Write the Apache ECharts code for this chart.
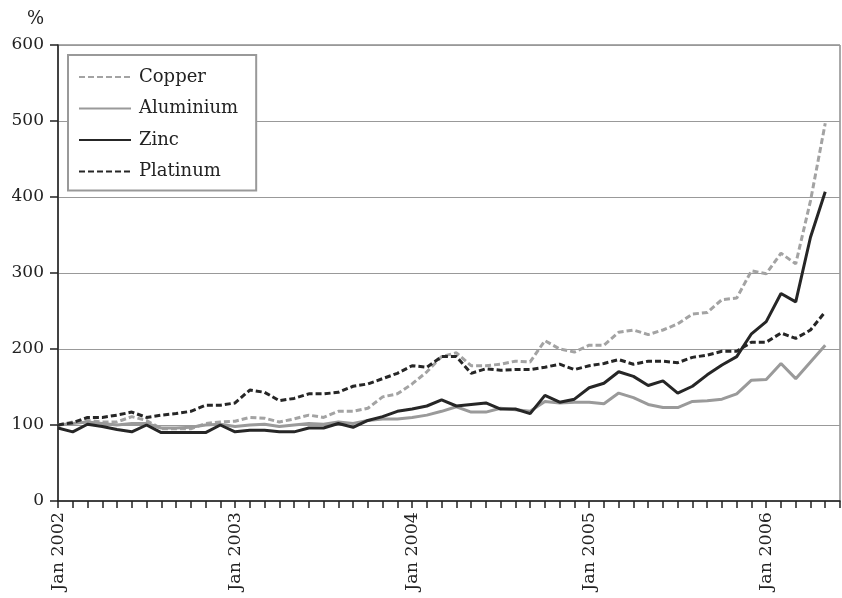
<!DOCTYPE html>
<html>
<head>
<meta charset="utf-8">
<script src="https://cdn.jsdelivr.net/npm/echarts@6/dist/echarts.min.js"></script>
<style>
html,body{margin:0;padding:0;background:#fff;}
#chart{width:842px;height:598px;}
</style>
</head>
<body>
<div id="chart"></div>
<script>
var months = [
 'Jan 2002','Feb 2002','Mar 2002','Apr 2002','May 2002','Jun 2002','Jul 2002','Aug 2002','Sep 2002','Oct 2002','Nov 2002','Dec 2002',
 'Jan 2003','Feb 2003','Mar 2003','Apr 2003','May 2003','Jun 2003','Jul 2003','Aug 2003','Sep 2003','Oct 2003','Nov 2003','Dec 2003',
 'Jan 2004','Feb 2004','Mar 2004','Apr 2004','May 2004','Jun 2004','Jul 2004','Aug 2004','Sep 2004','Oct 2004','Nov 2004','Dec 2004',
 'Jan 2005','Feb 2005','Mar 2005','Apr 2005','May 2005','Jun 2005','Jul 2005','Aug 2005','Sep 2005','Oct 2005','Nov 2005','Dec 2005',
 'Jan 2006','Feb 2006','Mar 2006','Apr 2006','May 2006','Jun 2006'
];
var seriesNames = ['Copper','Aluminium','Zinc','Platinum'];
var copper = [100,104,106,104,104,111,106,95,95,95,102,104,
 105,110,109,104,108,113,110,118,118,122,137,141,
 154,170,190,195,178,178,180,184,183,211,200,196,
 205,205,222,225,219,225,233,246,248,265,267,303,
 299,326,312,395,497];
var aluminium = [100,102,104,102,100,102,102,96,96,97,100,101,
 98,100,101,98,100,102,101,104,102,106,108,108,
 110,113,118,124,117,117,122,120,118,131,129,130,
 130,128,142,136,127,123,123,131,132,134,141,159,
 160,181,161,183,205];
var zinc = [96,91,101,98,94,91,100,90,90,90,90,100,
 91,93,93,91,91,96,96,102,97,106,111,118,
 121,125,133,125,127,129,121,121,115,139,130,134,
 149,155,170,164,152,158,142,151,166,179,190,220,
 236,273,262,347,407];
var platinum = [100,103,110,110,113,117,110,113,115,118,126,126,
 129,146,143,132,135,141,141,143,151,154,161,168,
 178,176,190,190,168,174,172,173,173,176,180,173,
 178,181,186,180,184,184,182,189,192,197,197,209,
 209,221,214,225,249];
var yTicks = [0,100,200,300,400,500,600];

var FONT = 'DejaVu Serif';
var chart = echarts.init(document.getElementById('chart'), null, {renderer:'canvas'});
function mk(name, data, color, dashed) {
  return {
    name: name, type: 'line', data: data, symbol: 'none', showSymbol: false,
    lineStyle: {color: color, width: 3, type: dashed ? [6,3] : 'solid'},
    itemStyle: {color: color},
    emphasis: {disabled: true}, animation: false
  };
}
chart.setOption({
  animation: false,
  title: {text: '%', left: 22, top: 5, textStyle: {fontFamily: FONT, fontSize: 18, fontWeight: 'normal', color: '#222'}},
  grid: {left: 58, right: 2, top: 45, bottom: 97, show: true, borderColor: '#555', borderWidth: 1, backgroundColor: 'transparent'},
  legend: {
    orient: 'vertical', left: 68, top: 55,
    padding: [12, 18, 9, 10],
    borderColor: '#999', borderWidth: 2, backgroundColor: '#fff',
    itemWidth: 52, itemHeight: 14, itemGap: 11.5,
    itemStyle: {opacity: 0},
    textStyle: {fontFamily: FONT, fontSize: 18, color: '#222', lineHeight: 20, padding: [0, 0, 0, 3]},
    data: seriesNames
  },
  xAxis: {
    type: 'category', data: months, boundaryGap: false,
    axisLine: {lineStyle: {color: '#222', width: 1.5}},
    axisTick: {show: true, interval: 0, length: 7, lineStyle: {color: '#222', width: 1.5}},
    axisLabel: {
      interval: function (i) { return i % 12 === 0; },
      rotate: 90, margin: 11, fontFamily: FONT, fontSize: 17.5, color: '#222'
    },
    splitLine: {show: false}
  },
  yAxis: {
    type: 'value', min: yTicks[0], max: yTicks[yTicks.length-1], interval: 100,
    axisLine: {show: true, lineStyle: {color: '#222', width: 1.5}},
    axisTick: {show: true, length: 8, lineStyle: {color: '#222', width: 1.5}},
    axisLabel: {margin: 14, fontFamily: FONT, fontSize: 17, color: '#222'},
    splitLine: {show: true, lineStyle: {color: '#999', width: 1}}
  },
  series: [
    mk('Copper', copper, '#a3a3a3', true),
    mk('Aluminium', aluminium, '#9a9a9a', false),
    mk('Zinc', zinc, '#262626', false),
    mk('Platinum', platinum, '#262626', true)
  ]
});
</script>
</body>
</html>
